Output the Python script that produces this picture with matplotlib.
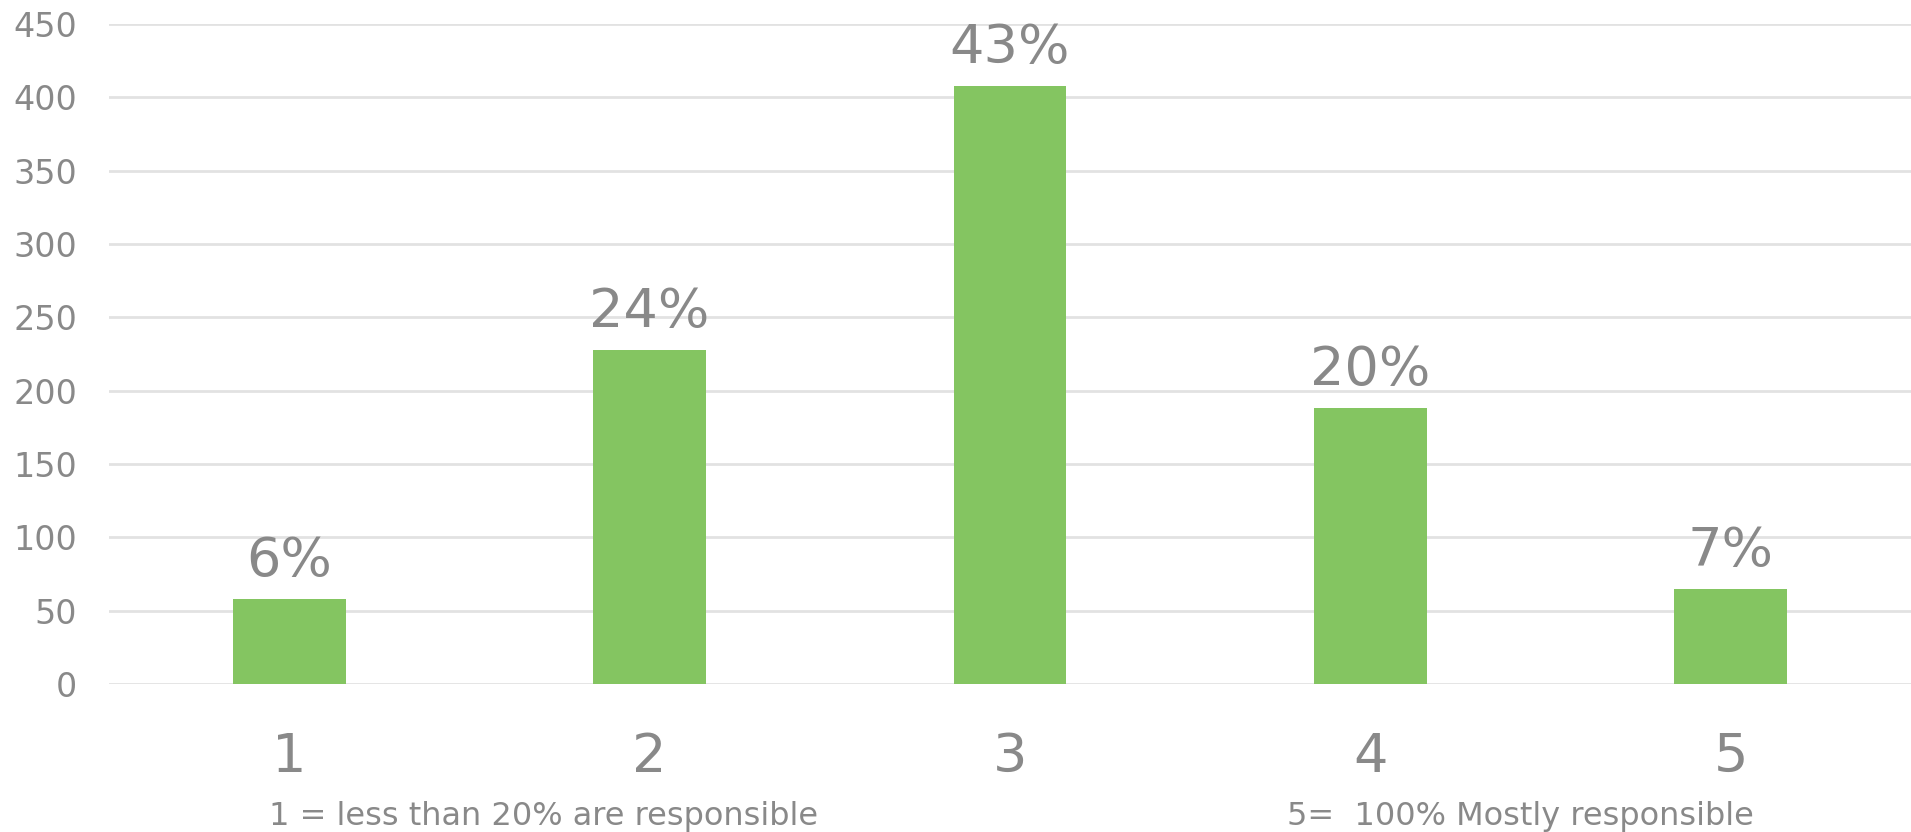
import matplotlib
matplotlib.use("Agg")
import matplotlib.pyplot as plt

categories = ["1", "2", "3", "4", "5"]
counts = [58, 228, 408, 188, 65]
pct_labels = ["6%", "24%", "43%", "20%", "7%"]
yticks = [0, 50, 100, 150, 200, 250, 300, 350, 400, 450]
note_left = "1 = less than 20% are responsible"
note_right = "5=  100% Mostly responsible"

GREEN = "#84C561"
GRAY = "#898989"
GRID = "#E2E2E2"

plt.rcParams['font.family'] = ['DejaVu Sans']

fig = plt.figure(figsize=(19.11, 8.32), dpi=100)
ax = fig.add_axes([109/1911, 1 - 684/832, 1 - 109/1911, (684 - 24)/832])

x = list(range(len(categories)))
ax.bar(x, counts, width=0.313, color=GREEN, zorder=3)

ax.set_ylim(0, 450)
ax.set_xlim(-0.5, 4.5)
ax.set_yticks(yticks)
ax.set_yticklabels([str(t) for t in yticks])
ax.set_xticks(x)
ax.set_xticklabels(categories)

ax.yaxis.grid(True, color=GRID, linewidth=2, zorder=0)
ax.set_axisbelow(True)
for s in ax.spines.values():
    s.set_visible(False)

ax.tick_params(axis='y', length=0, pad=23, labelsize=24, labelcolor=GRAY)
ax.tick_params(axis='x', length=0, pad=34, labelsize=39, labelcolor=GRAY)

for xi, c, lab in zip(x, counts, pct_labels):
    ax.annotate(lab, (xi, c), xytext=(0, 16.5), textcoords='offset points',
                ha='center', va='baseline', fontsize=39, color=GRAY)

fig.text(544/1911, 1 - 825/832, note_left, ha='center', va='baseline', fontsize=23, color=GRAY)
fig.text(1520/1911, 1 - 825/832, note_right, ha='center', va='baseline', fontsize=23, color=GRAY)

fig.savefig("out.png", dpi=100, facecolor="white")
